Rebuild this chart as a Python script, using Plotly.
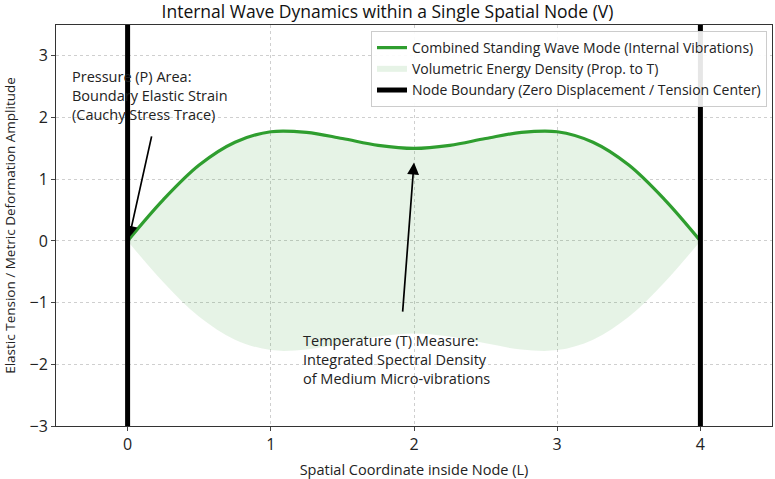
import plotly.graph_objects as go

# positions inside the node
x_pos = [0.0, 0.25, 0.5, 0.75, 1.0, 1.25, 1.5, 1.75, 2.0,
         2.25, 2.5, 2.75, 3.0, 3.25, 3.5, 3.75, 4.0]
# combined standing wave amplitude
wave_amp = [0.0, 0.67, 1.23, 1.60, 1.77, 1.76, 1.66, 1.55, 1.5,
            1.55, 1.66, 1.76, 1.77, 1.60, 1.23, 0.67, 0.0]
lower_amp = [-v for v in wave_amp]

node_edges = [0, 4]
y_span = [-3, 3.5]

green = "#2f9e2f"
fnt = "Open Sans, Arial, sans-serif"

fig = go.Figure()

# lower edge of the energy band (hidden)
fig.add_trace(go.Scatter(x=x_pos, y=lower_amp, mode="lines",
                         line=dict(width=0, shape="spline", color="rgba(0,0,0,0)"),
                         showlegend=False, hoverinfo="skip"))
fig.add_trace(go.Scatter(x=x_pos, y=wave_amp, mode="none", fill="tonexty",
                         fillcolor="rgba(47,158,47,0.12)", line=dict(shape="spline"),
                         name="Volumetric Energy Density (Prop. to T)", legendrank=2))
fig.add_trace(go.Scatter(x=x_pos, y=wave_amp, mode="lines",
                         line=dict(color=green, width=3.2, shape="spline"),
                         name="Combined Standing Wave Mode (Internal Vibrations)", legendrank=1))

for i, xe in enumerate(node_edges):
    fig.add_trace(go.Scatter(x=[xe, xe], y=y_span, mode="lines",
                             line=dict(color="black", width=5),
                             name="Node Boundary (Zero Displacement / Tension Center)",
                             showlegend=(i == 0), legendgroup="nb", legendrank=3))

# arrows
fig.add_annotation(x=0.01, y=0.05, ax=0.17, ay=1.72, axref="x", ayref="y",
                   xref="x", yref="y", text="", showarrow=True,
                   arrowhead=2, arrowsize=1.4, arrowwidth=1.7, arrowcolor="black")
fig.add_annotation(x=2.0, y=1.27, ax=1.92, ay=-1.17, axref="x", ayref="y",
                   xref="x", yref="y", text="", showarrow=True,
                   arrowhead=2, arrowsize=1.4, arrowwidth=1.7, arrowcolor="black")

fig.add_annotation(x=-0.4, y=2.85, xref="x", yref="y", xanchor="left", yanchor="top",
                   align="left", showarrow=False,
                   text="Pressure (P) Area:<br>Boundary Elastic Strain<br>(Cauchy Stress Trace)",
                   font=dict(size=14.5, color="#222", family=fnt))
fig.add_annotation(x=1.21, y=-1.42, xref="x", yref="y", xanchor="left", yanchor="top",
                   align="left", showarrow=False,
                   text="Temperature (T) Measure:<br>Integrated Spectral Density<br>of Medium Micro-vibrations",
                   font=dict(size=14.5, color="#222", family=fnt))

fig.update_layout(
    width=775, height=479,
    margin=dict(l=56, r=3, t=25, b=53, autoexpand=False),
    paper_bgcolor="white", plot_bgcolor="white",
    font=dict(family=fnt, size=13, color="#222"),
    title=dict(text="Internal Wave Dynamics within a Single Spatial Node (V)",
               x=0.5, xanchor="center", y=0.975, yanchor="middle",
               font=dict(size=17.5, color="#111")),
    legend=dict(x=0.993, y=0.985, xanchor="right", yanchor="top",
                bgcolor="rgba(255,255,255,0.9)", bordercolor="#cccccc", borderwidth=1,
                font=dict(size=14), tracegroupgap=0, itemwidth=30),
    showlegend=True,
)
fig.update_xaxes(range=[-0.5, 4.5], tickvals=[0, 1, 2, 3, 4], showline=True, mirror=True,
                 linecolor="#333", linewidth=1, ticks="outside", ticklen=4,
                 showgrid=True, gridcolor="#cfcfcf", griddash="dot", zeroline=False,
                 automargin=False,
                 title=dict(text="Spatial Coordinate inside Node (L)", font=dict(size=14.5),
                            standoff=10),
                 tickfont=dict(size=16))
fig.update_yaxes(range=[-3, 3.5], tickvals=[-3, -2, -1, 0, 1, 2, 3], showline=True, mirror=True,
                 linecolor="#333", linewidth=1, ticks="outside", ticklen=4,
                 showgrid=True, gridcolor="#cfcfcf", griddash="dot", zeroline=False,
                 automargin=False,
                 title=dict(text="Elastic Tension / Metric Deformation Amplitude", font=dict(size=13.5),
                            standoff=10),
                 tickfont=dict(size=16))

# drop the default page margin so the figure sits at the window's corner
fig.write_html("out.html", config={"displayModeBar": False},
               post_script="document.body.style.margin='0';")
